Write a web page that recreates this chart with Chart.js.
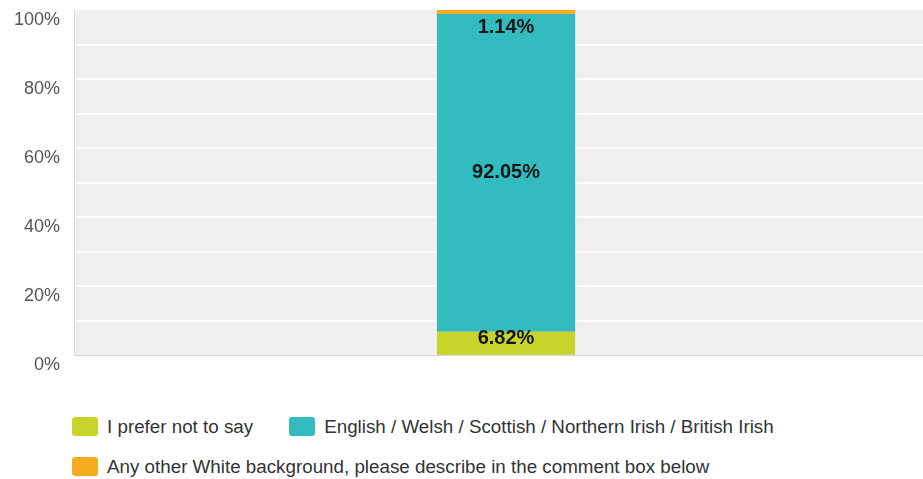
<!DOCTYPE html>
<html>
<head>
<meta charset="utf-8">
<script src="https://cdn.jsdelivr.net/npm/chart.js@4"></script>
<style>
  html,body{margin:0;padding:0;background:#fff;width:923px;height:479px;overflow:hidden;}
  #wrap{position:absolute;left:0;top:0;width:940px;height:380px;}
  #legend{position:absolute;left:72px;top:417px;width:851px;display:flex;flex-wrap:wrap;column-gap:36px;row-gap:21px;
    font-family:"Liberation Sans",Arial,sans-serif;font-size:18.8px;color:#333;}
  .item{display:flex;align-items:center;height:19px;white-space:nowrap;}
  .box{width:26px;height:19px;border-radius:3px;margin-right:9px;}
</style>
</head>
<body>
<div id="wrap"><canvas id="chart" width="940" height="380"></canvas></div>
<div id="legend"></div>
<script>
const categories = [""];
const seriesNames = [
  "I prefer not to say",
  "English / Welsh / Scottish / Northern Irish / British Irish",
  "Any other White background, please describe in the comment box below"
];
const seriesValues = [[6.82], [92.05], [1.14]];
const seriesColors = ["#c8d32b", "#33bcc0", "#f5ac1f"];
const yTicks = [0, 20, 40, 60, 80, 100];

const datasets = seriesNames.map((name, i) => ({
  label: name,
  data: seriesValues[i],
  backgroundColor: seriesColors[i],
  borderWidth: 0,
  barPercentage: 0.16,
  categoryPercentage: 1
}));

const plotBg = {
  id: "plotBg",
  beforeDraw(chart){
    const {ctx, chartArea:a} = chart;
    ctx.save();
    ctx.fillStyle = "#efefef";
    ctx.fillRect(a.left, a.top, a.right - a.left, a.bottom - a.top);
    ctx.restore();
  }
};

const barLabels = {
  id: "barLabels",
  afterDatasetsDraw(chart){
    const {ctx, chartArea:a} = chart;
    ctx.save();
    ctx.font = "bold 20px 'Liberation Sans', Arial, sans-serif";
    ctx.fillStyle = "#161616";
    ctx.textAlign = "center";
    ctx.textBaseline = "middle";
    chart.data.datasets.forEach((ds, i) => {
      const meta = chart.getDatasetMeta(i);
      meta.data.forEach((bar, j) => {
        const top = Math.min(bar.y, bar.base), bottom = Math.max(bar.y, bar.base);
        let y = (top + bottom) / 2;
        if (bottom - top < 30) y = Math.max(top + 7, a.top + 17);
        ctx.fillText(ds.data[j].toFixed(2) + "%", bar.x, y);
      });
    });
    ctx.restore();
  }
};

new Chart(document.getElementById("chart"), {
  type: "bar",
  data: { labels: categories, datasets },
  plugins: [plotBg, barLabels],
  options: {
    responsive: false,
    animation: false,
    layout: { padding: { left: 0, right: 2, top: 0, bottom: 23 } },
    plugins: { legend: { display: false }, tooltip: { enabled: false } },
    scales: {
      x: { stacked: true, display: false },
      y: {
        stacked: true,
        min: 0,
        max: 100,
        afterFit(scale){ scale.paddingTop = 10; },
        ticks: {
          stepSize: 10,
          padding: 14,
          labelOffset: 10,
          color: "#555",
          font: { family: "'Liberation Sans', Arial, sans-serif", size: 18 },
          callback: v => yTicks.includes(v) ? v + "%" : ""
        },
        grid: {
          drawTicks: false,
          color: c => c.tick.value === 0 ? "#d6d6d6" : (c.tick.value === 100 ? "rgba(0,0,0,0)" : "#ffffff"),
          lineWidth: c => c.tick.value === 0 ? 1 : 2
        },
        border: { display: true, color: "#d9d9d9", width: 1 }
      }
    }
  }
});

const legend = document.getElementById("legend");
seriesNames.forEach((name, i) => {
  const item = document.createElement("div");
  item.className = "item";
  item.innerHTML = `<span class="box" style="background:${seriesColors[i]}"></span><span>${name}</span>`;
  legend.appendChild(item);
});
</script>
</body>
</html>
